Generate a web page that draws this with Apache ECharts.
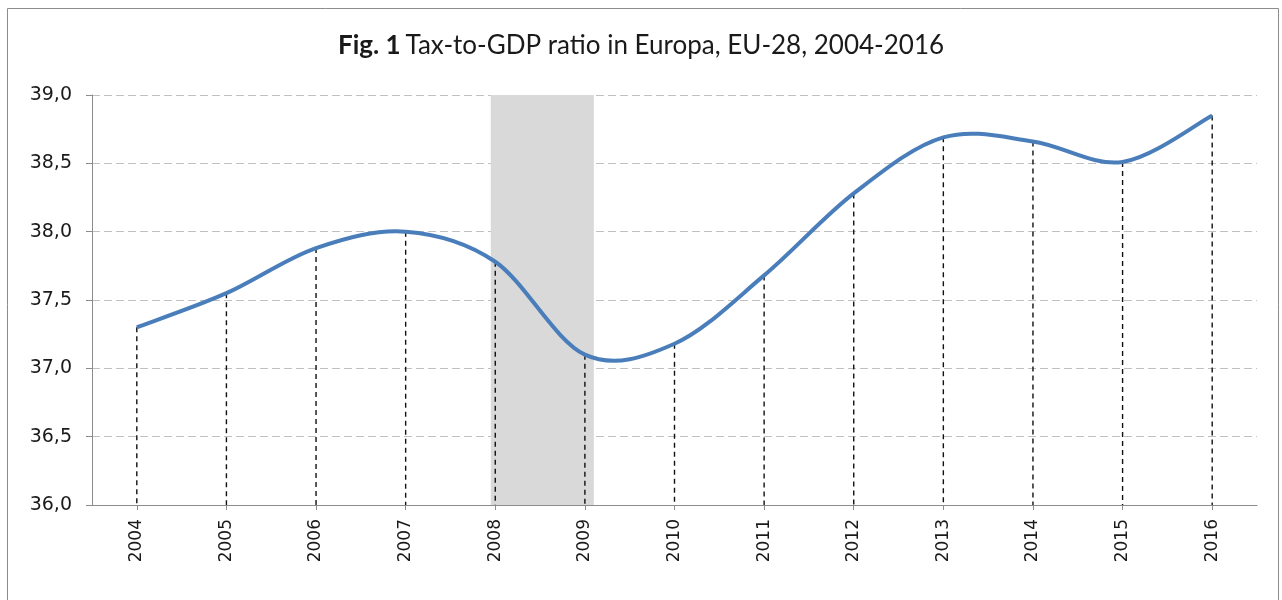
<!DOCTYPE html>
<html>
<head>
<meta charset="utf-8">
<title>Tax-to-GDP ratio in Europa, EU-28, 2004-2016</title>
<script src="https://cdn.jsdelivr.net/npm/echarts@6/dist/echarts.min.js"></script>
<style>
  html, body { margin: 0; padding: 0; background: #ffffff; }
  #chart { width: 1282px; height: 600px; }
</style>
</head>
<body>
<div id="chart"></div>
<script>
// Years on the horizontal axis
const years = ['2004', '2005', '2006', '2007', '2008', '2009', '2010',
               '2011', '2012', '2013', '2014', '2015', '2016'];

// Total tax revenue as % of GDP, EU-28
const taxRatio = [37.3, 37.55, 37.88, 38.0, 37.78, 37.1, 37.18,
                  37.68, 38.28, 38.69, 38.66, 38.51, 38.85];

// Value axis range and steps
const yMin = 36.0;
const yMax = 39.0;
const yStep = 0.5;

// Crisis period highlighted behind the curve (in years)
const crisisFrom = 2007.95;
const crisisTo = 2009.1;

const chart = echarts.init(document.getElementById('chart'), null, { renderer: 'canvas' });

const firstYear = Number(years[0]);
const lastYear = Number(years[years.length - 1]);

// Cardinal (Catmull-Rom style) smoothing through pixel points
function smoothPath(pts) {
  let d = 'M' + pts[0][0] + ' ' + pts[0][1];
  for (let i = 0; i < pts.length - 1; i++) {
    const p0 = pts[Math.max(i - 1, 0)];
    const p1 = pts[i];
    const p2 = pts[i + 1];
    const p3 = pts[Math.min(i + 2, pts.length - 1)];
    const c1x = p1[0] + (p2[0] - p0[0]) / 6;
    const c1y = p1[1] + (p2[1] - p0[1]) / 6;
    const c2x = p2[0] - (p3[0] - p1[0]) / 6;
    const c2y = p2[1] - (p3[1] - p1[1]) / 6;
    d += ' C' + c1x + ' ' + c1y + ' ' + c2x + ' ' + c2y + ' ' + p2[0] + ' ' + p2[1];
  }
  return d;
}

function renderItem(params, api) {
  const i = params.dataIndex;
  const top = api.coord([i, taxRatio[i]]);
  const base = api.coord([i, yMin]);
  const children = [{
    type: 'line',
    z2: 1,
    shape: { x1: top[0], y1: top[1], x2: base[0], y2: base[1] },
    style: { stroke: '#111111', lineWidth: 1.4, lineDash: [5, 4] }
  }];
  if (i === 0) {
    const pts = taxRatio.map((v, k) => api.coord([k, v]));
    children.push({
      type: 'path',
      z2: 10,
      shape: { pathData: smoothPath(pts) },
      style: { fill: null, stroke: '#4a7ebb', lineWidth: 4, lineJoin: 'round', lineCap: 'butt' }
    });
  }
  return { type: 'group', children };
}

const option = {
  animation: false,
  backgroundColor: '#ffffff',
  title: {
    text: '{b|Fig. 1} {r|Tax-to-GDP ratio in Europa, EU-28, 2004-2016}',
    left: 'center',
    top: 28,
    textStyle: {
      rich: {
        b: { fontFamily: 'Lato', fontWeight: 'bold', fontSize: 26, color: '#1a1a1a' },
        r: { fontFamily: 'Lato', fontWeight: 'normal', fontSize: 26, color: '#1a1a1a' }
      }
    }
  },
  graphic: [{
    type: 'rect',
    shape: { x: 7.5, y: 8.5, width: 1271, height: 600 },
    style: { fill: 'none', stroke: '#8c8c8c', lineWidth: 1 },
    silent: true,
    z: -1
  }],
  grid: { left: 92, right: 25, top: 95, bottom: 95, containLabel: false },
  xAxis: [{
    type: 'category',
    data: years,
    boundaryGap: true,
    axisLine: { show: true, lineStyle: { color: '#8c8c8c', width: 1 } },
    axisTick: { show: true, alignWithLabel: true, length: 5, lineStyle: { color: '#8c8c8c' } },
    axisLabel: {
      rotate: 90,
      margin: 14,
      fontFamily: 'DejaVu Sans',
      fontSize: 17,
      color: '#1a1a1a'
    },
    splitLine: { show: false }
  }, {
    type: 'value',
    min: firstYear - 0.5,
    max: lastYear + 0.5,
    show: false
  }],
  yAxis: {
    type: 'value',
    min: yMin,
    max: yMax,
    interval: yStep,
    axisLine: { show: true, lineStyle: { color: '#8c8c8c', width: 1 } },
    axisTick: { show: true, inside: false, length: 6, lineStyle: { color: '#8c8c8c' } },
    axisLabel: {
      margin: 20,
      fontFamily: 'DejaVu Sans',
      fontSize: 19,
      color: '#1a1a1a',
      formatter: v => v.toFixed(1).replace('.', ',')
    },
    splitLine: { show: true, lineStyle: { color: '#c0c0c0', type: [8, 4], width: 1 } }
  },
  series: [{
    // Shaded band for the crisis years
    type: 'line',
    xAxisIndex: 1,
    data: [],
    silent: true,
    markArea: {
      silent: true,
      itemStyle: { color: '#d9d9d9' },
      data: [[{ xAxis: crisisFrom }, { xAxis: crisisTo }]]
    },
    z: 1
  }, {
    // Smoothed ratio curve with dashed drop lines to the axis
    name: 'Tax-to-GDP ratio',
    type: 'custom',
    xAxisIndex: 0,
    renderItem: renderItem,
    data: taxRatio.map((v, i) => [i, v]),
    encode: { x: 0, y: 1 },
    clip: false,
    silent: true,
    z: 3
  }]
};

chart.setOption(option);
</script>
</body>
</html>
